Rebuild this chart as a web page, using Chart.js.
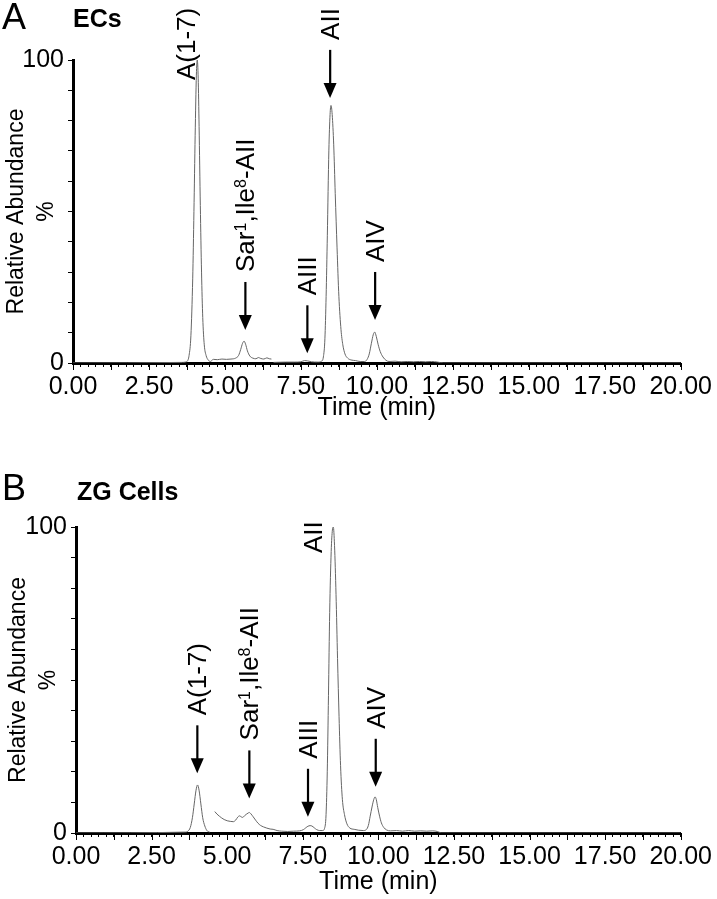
<!DOCTYPE html>
<html>
<head>
<meta charset="utf-8">
<script src="https://cdn.jsdelivr.net/npm/chart.js@4.4.1/dist/chart.umd.min.js"></script>
<style>
html,body{margin:0;padding:0;background:#fff;}
#wrap{position:relative;width:717px;height:899px;overflow:hidden;}
.pane{position:absolute;left:0;width:717px;}
#pa{top:0;height:440px;}
#pb{top:440px;height:459px;}
canvas{display:block;}
</style>
</head>
<body>
<div id="wrap">
  <div class="pane" id="pa"><canvas id="ca" width="717" height="440"></canvas></div>
  <div class="pane" id="pb"><canvas id="cb" width="717" height="459"></canvas></div>
</div>
<script>
const FAM = "'Liberation Sans', Arial, Helvetica, sans-serif";

// ---------- Data: panel A (ECs) ----------
const timeA = [
  0, 3.60, 3.70, 3.76, 3.82, 3.88, 3.94, 3.98, 4.02, 4.06,
  4.09, 4.12, 4.15, 4.19, 4.23, 4.27, 4.32, 4.38, 4.45, 4.52,
  4.62, 4.75, 4.90, 5.05, 5.20, 5.35, 5.45, 5.52, 5.58, 5.63,
  5.68, 5.74, 5.82, 5.92, 6.02, 6.10, 6.18, 6.28, 6.38, 6.46,
  6.53, 6.56, 6.60, 7.00, 7.30, 7.50, 7.62, 7.72, 7.85, 8.05,
  8.18, 8.24, 8.29, 8.33, 8.37, 8.42, 8.46, 8.49, 8.53, 8.58,
  8.63, 8.69, 8.75, 8.82, 8.88, 8.95, 9.04, 9.15, 9.30, 9.45,
  9.60, 9.68, 9.75, 9.82, 9.88, 9.93, 9.98, 10.04, 10.11, 10.20,
  10.30, 10.40, 10.60, 10.80, 11.00, 11.20, 11.40, 11.60, 11.80, 12.00,
  12.20, 20.00
];
const abundA = [
  0, 0.2, 0.3, 0.6, 2.5, 9, 28, 50, 75, 95,
  100, 94, 78, 52, 30, 15, 6, 2.5, 1.0, 0.5,
  1.2, 1.1, 1.3, 1.2, 1.3, 1.6, 2.5, 4.5, 6.5, 7.2,
  6.2, 4.0, 2.3, 1.6, 1.4, 1.8, 1.5, 1.3, 1.7, 1.4,
  1.3, null, 0.2, 0.3, 0.3, 0.4, 0.8, 0.7, 0.4, 0.3,
  0.6, 2, 8, 22, 42, 70, 82, 85, 82, 72,
  56, 38, 22, 11, 6, 3, 1.6, 1.0, 0.8, 0.5,
  0.5, 1.2, 3, 6.5, 9.3, 10.2, 8.8, 6.2, 3.8, 2.0,
  0.9, 0.5, 0.6, 0.4, 0.5, 0.4, 0.5, 0.4, 0.5, 0.3,
  0, 0
];

// ---------- Data: panel B (ZG Cells) ----------
const timeB = [
  0, 3.60, 3.70, 3.78, 3.85, 3.91, 3.97, 4.02, 4.07, 4.13,
  4.19, 4.26, 4.33, 4.42, 4.50, 4.59, 4.66, 4.74, 4.82, 4.90,
  5.00, 5.10, 5.20, 5.28, 5.35, 5.41, 5.46, 5.51, 5.57, 5.63,
  5.69, 5.73, 5.79, 5.86, 5.94, 6.02, 6.10, 6.20, 6.31, 6.42,
  6.52, 6.65, 6.80, 7.00, 7.20, 7.40, 7.52, 7.60, 7.67, 7.74,
  7.80, 7.88, 7.96, 8.06, 8.16, 8.22, 8.27, 8.31, 8.35, 8.39,
  8.44, 8.48, 8.51, 8.55, 8.60, 8.65, 8.70, 8.75, 8.81, 8.88,
  8.96, 9.06, 9.20, 9.35, 9.50, 9.60, 9.67, 9.73, 9.79, 9.85,
  9.89, 9.93, 9.98, 10.04, 10.10, 10.18, 10.27, 10.40, 10.60, 10.80,
  11.00, 11.20, 11.40, 11.60, 11.80, 11.95, 12.10, 20.00
];
const abundB = [
  0, 0.3, 0.6, 1.8, 5, 9.5, 14, 15.7, 14, 9.5,
  5, 2.3, 0.8, 0.3, null, 7.0, 6.2, 5.5, 4.9, 4.4,
  4.0, 3.8, 3.7, 4.2, 5.2, 5.6, 5.3, 5.1, 5.6, 6.1,
  6.5, 6.7, 6.2, 5.3, 4.2, 3.2, 2.5, 2.0, 1.6, 1.3,
  1.2, 0.8, 0.6, 0.5, 0.6, 0.7, 1.1, 1.7, 2.2, 2.4,
  2.3, 1.7, 1.1, 0.8, 0.8, 1.5, 6, 20, 45, 72,
  92, 99, 100, 94, 78, 57, 38, 22, 11, 6,
  3, 1.6, 1.2, 0.9, 0.8, 1.1, 2.5, 5.5, 8.5, 11,
  11.8, 11, 8.3, 5.5, 3.3, 1.8, 1.0, 0.7, 0.8, 0.6,
  0.8, 0.6, 0.7, 0.6, 0.7, 0.5, 0, 0
];

// ---------- Tick labels ----------
const xTickLabels = ['0.00','2.50','5.00','7.50','10.00','12.50','15.00','17.50','20.00'];
const yTickValues = [0, 100];
const yTickText = ['0', '100'];

// ---------- Peak annotations (time in min, level in %) ----------
const annLabelsA = ['A(1-7)', 'Sar{1},Ile{8}-AII', 'AIII', 'AII', 'AIV'];
const annTimeA   = [3.78, 5.67, 7.71, 8.46, 9.94];
const annLevelA  = [93.4, 10.9, 3.2, 87.5, 14.2];
const annArrowA  = [false, true, true, true, true];

const annLabelsB = ['A(1-7)', 'Sar{1},Ile{8}-AII', 'AIII', 'AII', 'AIV'];
const annTimeB   = [4.01, 5.73, 7.67, 7.89, 9.91];
const annLevelB  = [19.5, 11.3, 5.3, 91.5, 15.1];
const annArrowB  = [true, true, true, false, true];

// ---------- Drawing helpers ----------
function drawRich(ctx, label, size) {
  const parts = label.split(/(\{[^}]*\})/).filter(s => s.length);
  let x = 0;
  for (const p of parts) {
    const sup = p.charAt(0) === '{';
    const txt = sup ? p.slice(1, -1) : p;
    ctx.font = (sup ? Math.round(size * 0.62) : size) + 'px ' + FAM;
    ctx.fillText(txt, x, sup ? -size * 0.2 : 0);
    x += ctx.measureText(txt).width;
  }
}

function overlayPlugin(cfg) {
  return {
    id: 'overlay' + cfg.key,
    afterDraw(chart) {
      const ctx = chart.ctx;
      const x = chart.scales.x, y = chart.scales.y;
      ctx.save();
      // medium x ticks every 1.25 min
      ctx.strokeStyle = '#000';
      ctx.lineWidth = 1;
      for (let k = 0; k <= 16; k++) {
        const px = Math.round(x.getPixelForValue(k * 1.25)) + 0.5;
        ctx.beginPath();
        ctx.moveTo(px, y.bottom);
        ctx.lineTo(px, y.bottom + 7);
        ctx.stroke();
      }
      // panel letter and title
      ctx.fillStyle = '#000';
      ctx.textAlign = 'left';
      ctx.textBaseline = 'alphabetic';
      ctx.font = '36px ' + FAM;
      ctx.fillText(cfg.letter, 2, cfg.letterBase);
      ctx.font = 'bold 25px ' + FAM;
      ctx.fillText(cfg.title, cfg.titleX, cfg.titleBase);
      // annotations
      cfg.labels.forEach((lab, i) => {
        const px = x.getPixelForValue(cfg.times[i]);
        const py = y.getPixelForValue(cfg.levels[i]);
        let textBottom, textX;
        if (cfg.arrows[i]) {
          ctx.fillStyle = '#000';
          ctx.fillRect(px - 1, py - 48, 2.2, 36);
          ctx.beginPath();
          ctx.moveTo(px - 6.5, py - 15);
          ctx.lineTo(px + 6.5, py - 15);
          ctx.lineTo(px, py);
          ctx.closePath();
          ctx.fill();
          textBottom = py - 58;
          textX = px + 2;
        } else {
          textBottom = py;
          textX = px;
        }
        ctx.save();
        ctx.translate(textX, textBottom);
        ctx.rotate(-Math.PI / 2);
        ctx.textAlign = 'left';
        ctx.textBaseline = 'middle';
        ctx.fillStyle = '#000';
        drawRich(ctx, lab, 26);
        ctx.restore();
      });
      ctx.restore();
    }
  };
}

function buildChart(canvasId, cfg) {
  const points = cfg.time.map((t, i) => ({ x: t, y: cfg.abund[i] }));
  return new Chart(document.getElementById(canvasId), {
    type: 'line',
    data: {
      datasets: [{
        data: points,
        borderColor: '#666666',
        borderWidth: 1,
        pointRadius: 0,
        fill: false,
        cubicInterpolationMode: 'monotone',
        spanGaps: false
      }]
    },
    options: {
      responsive: false,
      animation: false,
      devicePixelRatio: 1,
      layout: { padding: { top: cfg.padTop, right: cfg.padRight, left: 0, bottom: 0 } },
      plugins: { legend: { display: false }, tooltip: { enabled: false }, title: { display: false } },
      scales: {
        x: {
          type: 'linear', min: 0, max: 20, z: 1,
          afterFit: s => { s.height = cfg.xAxisHeight; },
          border: { display: true, color: '#000', width: 3 },
          grid: { display: true, drawOnChartArea: false, drawTicks: true, tickLength: 4, color: '#000', lineWidth: 1 },
          ticks: {
            stepSize: 0.25, autoSkip: false, maxRotation: 0, minRotation: 0, padding: 5,
            color: '#000', font: { family: FAM, size: 25 },
            callback: v => {
              const k = v / 2.5;
              return Math.abs(k - Math.round(k)) < 1e-6 ? xTickLabels[Math.round(k)] : '';
            }
          },
          title: {
            display: true, text: 'Time (min)', color: '#000',
            font: { family: FAM, size: 25, lineHeight: 1.2 },
            padding: { top: 0, bottom: cfg.xTitlePad }
          }
        },
        y: {
          type: 'linear', min: 0, max: 100, z: 1,
          afterFit: s => { s.width = cfg.yAxisWidth; },
          border: { display: true, color: '#000', width: 3 },
          grid: { display: true, drawOnChartArea: false, drawTicks: true, tickLength: 5, color: '#000', lineWidth: 1 },
          ticks: {
            stepSize: 10, autoSkip: false, padding: 4,
            color: '#000', font: { family: FAM, size: 25 },
            callback: v => {
              const i = yTickValues.indexOf(v);
              return i >= 0 ? yTickText[i] : '';
            }
          },
          title: {
            display: true, text: ['Relative Abundance', '%'], color: '#000',
            font: { family: FAM, size: 23, lineHeight: 1.3 },
            padding: { top: cfg.yTitlePad, bottom: 0 }
          }
        }
      }
    },
    plugins: [overlayPlugin(cfg)]
  });
}

buildChart('ca', {
  key: 'A', time: timeA, abund: abundA,
  padTop: 60, padRight: 31, xAxisHeight: 77, yAxisWidth: 73,
  xTitlePad: 17, yTitlePad: 2,
  letter: 'A', letterBase: 29, title: 'ECs', titleX: 73, titleBase: 27,
  labels: annLabelsA, times: annTimeA, levels: annLevelA, arrows: annArrowA
});

buildChart('cb', {
  key: 'B', time: timeB, abund: abundB,
  padTop: 87, padRight: 33, xAxisHeight: 66, yAxisWidth: 76,
  xTitlePad: 2, yTitlePad: 4,
  letter: 'B', letterBase: 60, title: 'ZG Cells', titleX: 77, titleBase: 60,
  labels: annLabelsB, times: annTimeB, levels: annLevelB, arrows: annArrowB
});
</script>
</body>
</html>
